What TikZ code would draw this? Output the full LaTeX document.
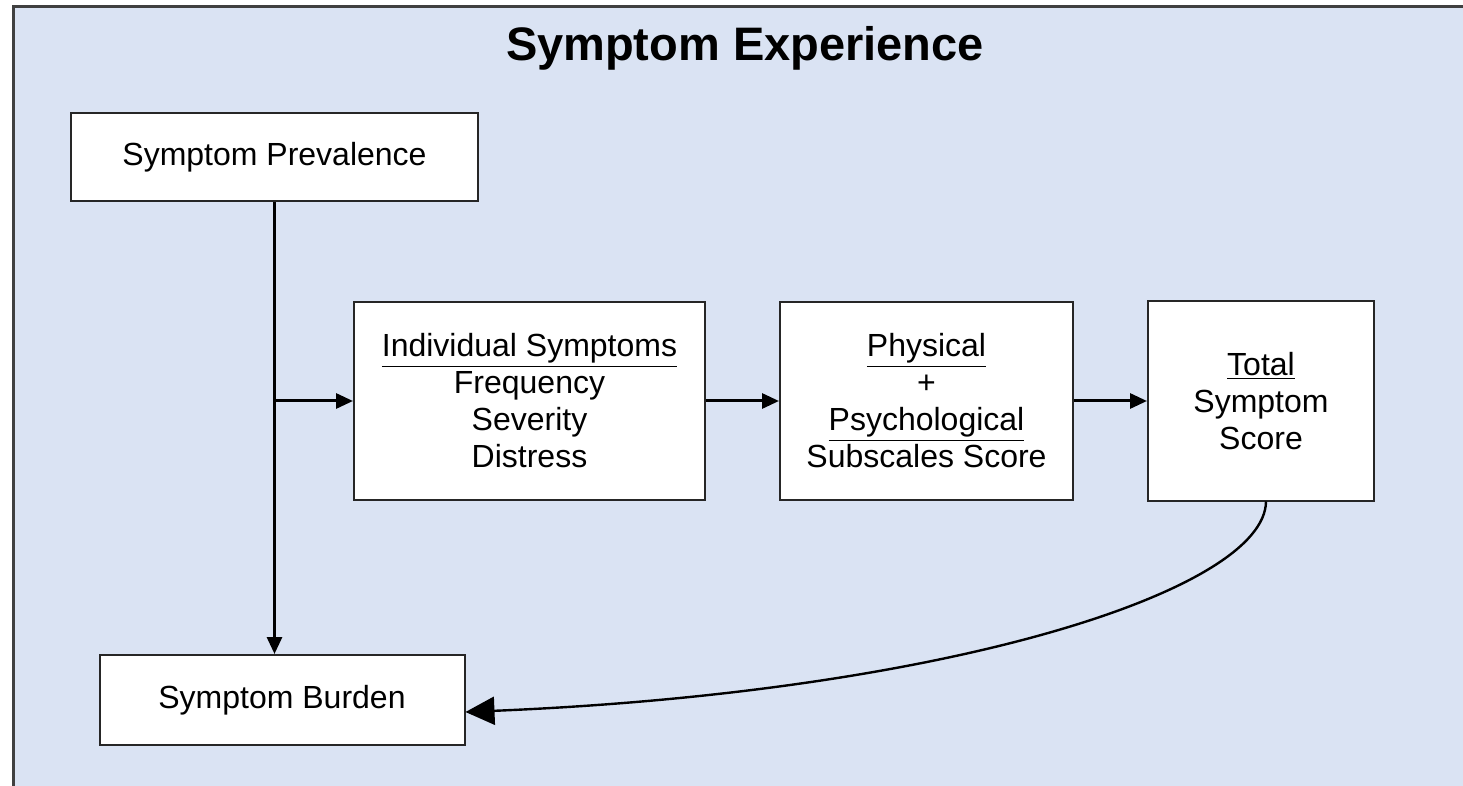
\documentclass[tikz,border=0pt]{standalone}
\usepackage{fontspec}
\setmainfont{Liberation Sans}
\usetikzlibrary{arrows.meta,positioning}
\definecolor{bgblue}{HTML}{DAE3F3}
\definecolor{framegray}{HTML}{404040}

\begin{document}
\begin{tikzpicture}[x=0.5pt,y=-0.5pt,>={Triangle[length=8.5pt,width=7.5pt]},
 box/.style={draw=black!85,line width=1pt,fill=white,align=center,
   font=\fontsize{16}{18.5}\selectfont,inner sep=0pt},
 flow/.style={->,line width=1.5pt},
 node distance=36.5pt]
 \useasboundingbox (0,0) rectangle (1463,786);
 \fill[bgblue] (13,7) rectangle (1463,786);
 \draw[framegray,line width=1.5pt] (1463,7) -- (13,7) -- (13,786);

 \node[font=\bfseries\fontsize{23.5}{28}\selectfont] (title) at (745,48) {Symptom Experience};
 \node[box,minimum width=203.5pt,minimum height=44pt] (prev) at (274.5,157) {Symptom Prevalence};
 \node[box,minimum width=182.5pt,minimum height=45pt] (burd) at (282,700) {Symptom Burden};
 \node[box,minimum width=175.5pt,minimum height=98.5pt] (ind) at (529.5,401)
   {\underline{Individual Symptoms}\\Frequency\\Severity\\Distress};
 \node[box,right=of ind,minimum width=146.5pt,minimum height=99pt] (phys)
   {\underline{Physical}\\+\\\underline{Psychological}\\Subscales Score};
 \node[box,right=of phys,minimum width=113pt,minimum height=99.5pt] (tot)
   {\underline{Total}\\Symptom\\Score};
 \coordinate (hit) at ([yshift=-6pt]burd.east);

 \draw[flow] (prev.south) -- (prev.south |- burd.north);
 \draw[flow] (prev.south |- ind.west) -- (ind.west);
 \draw[flow] (ind.east) -- (phys.west);
 \draw[flow] (phys.east) -- (tot.west);
 \draw[line width=1.2pt,-{Triangle[length=14.5pt,width=14pt]}]
   ([xshift=2.5pt]tot.south) .. controls (1265,590) and (950,692) .. (hit);
\end{tikzpicture}
\end{document}
